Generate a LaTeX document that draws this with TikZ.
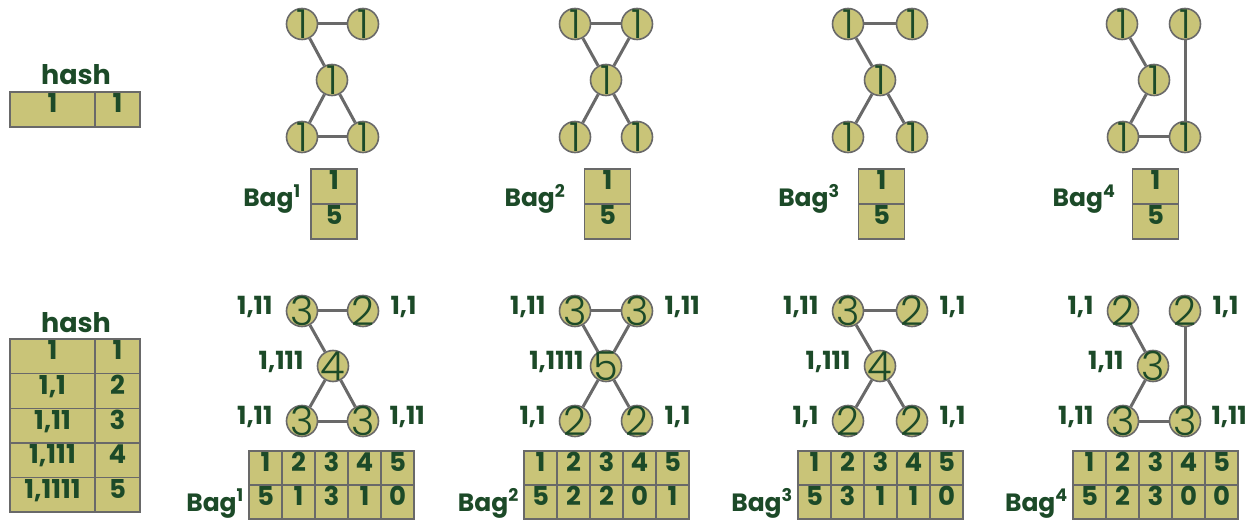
\documentclass[tikz,border=0pt]{standalone}
\usepackage{fontspec}
\setmainfont{Poppins}
\newfontfamily\thinfont{Poppins Light}
\definecolor{khaki}{RGB}{201,196,120}
\definecolor{edgegray}{RGB}{105,105,105}
\definecolor{txt}{RGB}{28,74,40}
\newcommand\dg[1]{\makebox[0pt]{\raisebox{-0.37em}[0pt][0pt]{#1}}}
\tikzset{
  vtx/.style={circle, draw=edgegray, line width=1.6pt, fill=khaki, minimum size=31pt, inner sep=0pt, text=txt, font=\thinfont\fontsize{40}{40}\selectfont},
  edge/.style={draw=edgegray, line width=3pt},
  cell/.style={draw=edgegray, line width=1.4pt, fill=khaki, inner sep=0pt, text=txt, text height=0.7em, text depth=0pt, font=\bfseries\fontsize{26}{26}\selectfont},
  lbl/.style={text=txt, inner sep=0pt, text height=0.7em, text depth=0pt, font=\bfseries\fontsize{25}{25}\selectfont},
  title/.style={text=txt, inner sep=0pt, font=\bfseries\fontsize{27}{27}\selectfont},
  bagbox/.style={cell, minimum width=46pt, minimum height=35pt},
  bagcell/.style={cell, minimum width=33pt, minimum height=34pt},
}
\begin{document}
\begin{tikzpicture}[x=1pt,y=-1pt]
\useasboundingbox (0,0) rectangle (1256,521);

% ---------- top hash table ----------
\node[title] (hashA) at (76,75) {hash};
\node[cell, minimum width=85pt, minimum height=35pt] (hA1) at (52.5,109.5) {1};
\node[cell, minimum width=45pt, minimum height=35pt] (hA2) at (117.5,109.5) {1};

% ---------- bottom hash table ----------
\node[title] (hashB) at (76,323) {hash};
\foreach \k/\y/\key/\val in {1/356.3/1/1, 2/390.9/{1,1}/2, 3/425.5/{1,11}/3, 4/460.1/{1,111}/4, 5/494.7/{1,1111}/5}{
  \node[cell, minimum width=85pt, minimum height=34.6pt] (hBk\k) at (52.5,\y) {\key};
  \node[cell, minimum width=45pt, minimum height=34.6pt] (hBv\k) at (117.5,\y) {\val};
}

% ---------- top graphs ----------
% graph 1
\node[vtx] (t1a) at (302,24) {\dg{1}};
\node[vtx] (t1b) at (363,24) {\dg{1}};
\node[vtx] (t1m) at (332,80) {\dg{1}};
\node[vtx] (t1c) at (302,137) {\dg{1}};
\node[vtx] (t1d) at (363,137) {\dg{1}};
\draw[edge] (t1a) -- (t1b);
\draw[edge] (t1a) -- (t1m);
\draw[edge] (t1m) -- (t1c);
\draw[edge] (t1m) -- (t1d);
\draw[edge] (t1c) -- (t1d);
% graph 2
\node[vtx] (t2a) at (575,24) {\dg{1}};
\node[vtx] (t2b) at (637,24) {\dg{1}};
\node[vtx] (t2m) at (606,80) {\dg{1}};
\node[vtx] (t2c) at (575,137) {\dg{1}};
\node[vtx] (t2d) at (637,137) {\dg{1}};
\draw[edge] (t2a) -- (t2b);
\draw[edge] (t2a) -- (t2m);
\draw[edge] (t2b) -- (t2m);
\draw[edge] (t2m) -- (t2c);
\draw[edge] (t2m) -- (t2d);
% graph 3
\node[vtx] (t3a) at (848,24) {\dg{1}};
\node[vtx] (t3b) at (912,24) {\dg{1}};
\node[vtx] (t3m) at (880,80) {\dg{1}};
\node[vtx] (t3c) at (848,137) {\dg{1}};
\node[vtx] (t3d) at (912,137) {\dg{1}};
\draw[edge] (t3a) -- (t3b);
\draw[edge] (t3a) -- (t3m);
\draw[edge] (t3m) -- (t3c);
\draw[edge] (t3m) -- (t3d);
% graph 4
\node[vtx] (t4a) at (1122,24) {\dg{1}};
\node[vtx] (t4b) at (1185,24) {\dg{1}};
\node[vtx] (t4m) at (1154,80) {\dg{1}};
\node[vtx] (t4c) at (1123,137) {\dg{1}};
\node[vtx] (t4d) at (1185,137) {\dg{1}};
\draw[edge] (t4a) -- (t4m);
\draw[edge] (t4m) -- (t4c);
\draw[edge] (t4c) -- (t4d);
\draw[edge] (t4b) -- (t4d);

% ---------- top bags ----------
\foreach \i/\bx/\lx in {1/334/272, 2/607.5/535, 3/881.5/809, 4/1155.5/1084}{
  \node[bagbox] (tb\i a) at (\bx,186.5) {1};
  \node[bagbox] (tb\i b) at (\bx,221.5) {5};
  \node[lbl, anchor=base, text height=, text depth=] (tbl\i) at (\lx,207) {Bag\textsuperscript{\i}};
}

% ---------- bottom graphs ----------
% graph 1
\node[vtx] (b1a) at (302,311) {\dg{3}};
\node[vtx] (b1b) at (363,311) {\dg{2}};
\node[vtx] (b1m) at (333,366) {\dg{4}};
\node[vtx] (b1c) at (302,421) {\dg{3}};
\node[vtx] (b1d) at (363,421) {\dg{3}};
\draw[edge] (b1a) -- (b1b);
\draw[edge] (b1a) -- (b1m);
\draw[edge] (b1m) -- (b1c);
\draw[edge] (b1m) -- (b1d);
\draw[edge] (b1c) -- (b1d);
\node[lbl, anchor=east] (l1a) at ([xshift=-13pt]b1a.west) {1,11};
\node[lbl, anchor=west] (l1b) at ([xshift=11pt]b1b.east) {1,1};
\node[lbl, anchor=east] (l1m) at ([xshift=-13pt]b1m.west) {1,111};
\node[lbl, anchor=east] (l1c) at ([xshift=-13pt]b1c.west) {1,11};
\node[lbl, anchor=west] (l1d) at ([xshift=10pt]b1d.east) {1,11};
% graph 2
\node[vtx] (b2a) at (575,311) {\dg{3}};
\node[vtx] (b2b) at (637,311) {\dg{3}};
\node[vtx] (b2m) at (606,366) {\dg{5}};
\node[vtx] (b2c) at (575,421) {\dg{2}};
\node[vtx] (b2d) at (637,421) {\dg{2}};
\draw[edge] (b2a) -- (b2b);
\draw[edge] (b2a) -- (b2m);
\draw[edge] (b2b) -- (b2m);
\draw[edge] (b2m) -- (b2c);
\draw[edge] (b2m) -- (b2d);
\node[lbl, anchor=east] (l2a) at ([xshift=-13pt]b2a.west) {1,11};
\node[lbl, anchor=west] (l2b) at ([xshift=11pt]b2b.east) {1,11};
\node[lbl, anchor=east] (l2m) at ([xshift=-6pt]b2m.west) {1,1111};
\node[lbl, anchor=east] (l2c) at ([xshift=-13pt]b2c.west) {1,1};
\node[lbl, anchor=west] (l2d) at ([xshift=11pt]b2d.east) {1,1};
% graph 3
\node[vtx] (b3a) at (848,311) {\dg{3}};
\node[vtx] (b3b) at (912,311) {\dg{2}};
\node[vtx] (b3m) at (880,366) {\dg{4}};
\node[vtx] (b3c) at (848,421) {\dg{2}};
\node[vtx] (b3d) at (912,421) {\dg{2}};
\draw[edge] (b3a) -- (b3b);
\draw[edge] (b3a) -- (b3m);
\draw[edge] (b3m) -- (b3c);
\draw[edge] (b3m) -- (b3d);
\node[lbl, anchor=east] (l3a) at ([xshift=-13pt]b3a.west) {1,11};
\node[lbl, anchor=west] (l3b) at ([xshift=11pt]b3b.east) {1,1};
\node[lbl, anchor=east] (l3m) at ([xshift=-13pt]b3m.west) {1,111};
\node[lbl, anchor=east] (l3c) at ([xshift=-13pt]b3c.west) {1,1};
\node[lbl, anchor=west] (l3d) at ([xshift=11pt]b3d.east) {1,1};
% graph 4
\node[vtx] (b4a) at (1123,311) {\dg{2}};
\node[vtx] (b4b) at (1185,311) {\dg{2}};
\node[vtx] (b4m) at (1153,366) {\dg{3}};
\node[vtx] (b4c) at (1123,421) {\dg{3}};
\node[vtx] (b4d) at (1185,421) {\dg{3}};
\draw[edge] (b4a) -- (b4m);
\draw[edge] (b4m) -- (b4c);
\draw[edge] (b4c) -- (b4d);
\draw[edge] (b4b) -- (b4d);
\node[lbl, anchor=east] (l4a) at ([xshift=-13pt]b4a.west) {1,1};
\node[lbl, anchor=west] (l4b) at ([xshift=11pt]b4b.east) {1,1};
\node[lbl, anchor=east] (l4m) at ([xshift=-13pt]b4m.west) {1,11};
\node[lbl, anchor=east] (l4c) at ([xshift=-13pt]b4c.west) {1,11};
\node[lbl, anchor=west] (l4d) at ([xshift=10pt]b4d.east) {1,11};

% ---------- bottom bags ----------
\foreach \g/\sx/\vals in {1/249/{5,1,3,1,0}, 2/524/{5,2,2,0,1}, 3/798/{5,3,1,1,0}, 4/1073/{5,2,3,0,0}}{
  \foreach \v [count=\c] in \vals {
    \node[bagcell] (bb\g h\c) at ({\sx+16.5+33*(\c-1)},468) {\c};
    \node[bagcell] (bb\g v\c) at ({\sx+16.5+33*(\c-1)},502) {\v};
  }
  \node[lbl, anchor=base east, text height=, text depth=] (bbl\g) at ({\sx-5},511) {Bag\textsuperscript{\g}};
}
\end{tikzpicture}
\end{document}
